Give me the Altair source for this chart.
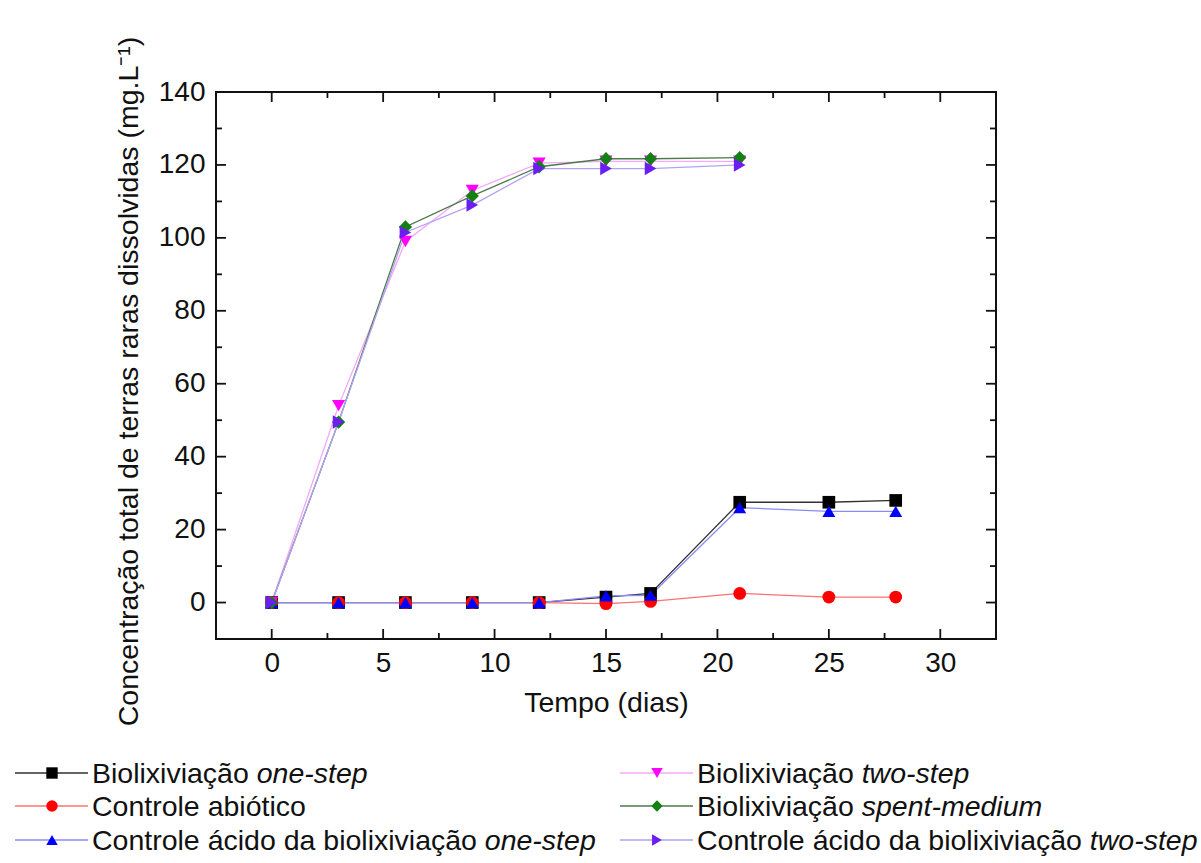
import altair as alt
import pandas as pd

# ---- data -------------------------------------------------------------
days_long = [0, 3, 6, 9, 12, 15, 17, 21, 25, 28]
days_short = [0, 3, 6, 9, 12, 15, 17, 21]

one_step = [0, 0, 0, 0, 0, 1.5, 2.5, 27.5, 27.5, 28.0]
abiotic = [0, 0, 0, 0, 0, -0.3, 0.3, 2.5, 1.5, 1.5]
acid_one_step = [0, 0, 0, 0, 0, 1.8, 2.0, 26.0, 25.0, 25.0]
two_step = [0, 54.0, 99.0, 113.0, 120.5, 121.0, 121.0, 121.0]
spent_medium = [0, 49.5, 103.0, 111.5, 119.5, 121.7, 121.7, 122.0]
acid_two_step = [0, 49.5, 101.5, 109.0, 119.0, 119.0, 119.0, 120.0]

series_keys = ["one", "abio", "acid1", "two", "spent", "acid2"]
label_plain = [
    "Biolixiviação ",
    "Controle abiótico",
    "Controle ácido da biolixiviação ",
    "Biolixiviação ",
    "Biolixiviação ",
    "Controle ácido da biolixiviação ",
]
label_italic = ["one-step", "", "one-step", "two-step", "spent-medium", "two-step"]

x_major = [0, 5, 10, 15, 20, 25, 30]
x_minor = [2.5, 7.5, 12.5, 17.5, 22.5, 27.5]
y_major = [0, 20, 40, 60, 80, 100, 120, 140]
y_minor = [-10, 10, 30, 50, 70, 90, 110, 130]

# ---- styles -----------------------------------------------------------
marker_colors = ["#000000", "#ff0000", "#0000ff", "#ff00ff", "#128012", "#6a1ff0"]
line_colors = ["#303030", "#ff7070", "#8c8cf5", "#f5a8f5", "#4d7a4d", "#b3a2f5"]
shapes = ["square", "circle", "triangle-up", "triangle-down", "diamond", "triangle-right"]
sizes = [160, 180, 210, 210, 270, 210]

FONT = "Liberation Sans"
FS_TICK = 28
FS = 28.5
W, H = 780, 547
X_DOM = [-2.5, 32.5]
Y_DOM = [-10, 140]

# ---- long table ---------------------------------------------------------
rows = []
for key, days, vals in [
    ("one", days_long, one_step),
    ("abio", days_long, abiotic),
    ("acid1", days_long, acid_one_step),
    ("two", days_short, two_step),
    ("spent", days_short, spent_medium),
    ("acid2", days_short, acid_two_step),
]:
    for d, v in zip(days, vals):
        rows.append({"series": key, "dia": d, "conc": v})
df = pd.DataFrame(rows)

xs = alt.Scale(domain=X_DOM, nice=False, zero=False)
ys = alt.Scale(domain=Y_DOM, nice=False, zero=False)
line_scale = alt.Scale(domain=series_keys, range=line_colors)
fill_scale = alt.Scale(domain=series_keys, range=marker_colors)
shape_scale = alt.Scale(domain=series_keys, range=shapes)
size_scale = alt.Scale(domain=series_keys, range=sizes)

x_axis = alt.Axis(
    values=x_major, title="Tempo (dias)", grid=False, ticks=False, tickSize=0,
    domain=False, labelFont=FONT, labelFontSize=FS_TICK, labelColor="#111",
    labelPadding=10, labelFlush=False,
    titleFont=FONT, titleFontSize=FS, titleFontWeight="normal", titleColor="#111",
    titlePadding=11,
)
y_axis = alt.Axis(
    values=y_major, title="Concentração total de terras raras dissolvidas (mg.L⁻¹)",
    grid=False, ticks=False, tickSize=0, domain=False, labelFont=FONT,
    labelFontSize=FS_TICK, labelColor="#111", labelPadding=11, labelFlush=False,
    titleFont=FONT, titleFontSize=FS, titleFontWeight="normal", titleColor="#111",
    titleAngle=270, titleAlign="center", titleBaseline="middle",
    titleX=-88, titleY=289,
)

base = alt.Chart(df)

lines = base.mark_line(strokeWidth=1.3).encode(
    x=alt.X("dia:Q", scale=xs, axis=x_axis),
    y=alt.Y("conc:Q", scale=ys, axis=y_axis),
    color=alt.Color("series:N", scale=line_scale, legend=None),
    detail="series:N",
)

points = base.mark_point(filled=True, opacity=1, strokeWidth=0).encode(
    x=alt.X("dia:Q", scale=xs),
    y=alt.Y("conc:Q", scale=ys),
    fill=alt.Fill("series:N", scale=fill_scale, legend=None),
    shape=alt.Shape("series:N", scale=shape_scale, legend=None),
    size=alt.Size("series:N", scale=size_scale, legend=None),
    order=alt.Order("ord:Q"),
).transform_calculate(
    ord="indexof(" + str(series_keys) + ", datum.series)"
)

# ---- inward ticks on all four sides ---------------------------------
xt = pd.DataFrame({"v": x_major + x_minor, "len": [10] * len(x_major) + [6] * len(x_minor)})
yt = pd.DataFrame({"v": y_major + y_minor, "len": [10] * len(y_major) + [6] * len(y_minor)})

tick_style = dict(color="#111", strokeWidth=1.8)
x_bottom = alt.Chart(xt).transform_calculate(yb=f"{H} - datum.len").mark_rule(**tick_style).encode(
    x=alt.X("v:Q", scale=xs),
    y=alt.Y("yb:Q", scale=None),
    y2=alt.value(H),
)
x_top = alt.Chart(xt).mark_rule(**tick_style).encode(
    x=alt.X("v:Q", scale=xs),
    y=alt.Y("len:Q", scale=None),
    y2=alt.value(0),
)
y_left = alt.Chart(yt).mark_rule(**tick_style).encode(
    y=alt.Y("v:Q", scale=ys),
    x=alt.X("len:Q", scale=None),
    x2=alt.value(0),
)
y_right = alt.Chart(yt).transform_calculate(xr=f"{W} - datum.len").mark_rule(**tick_style).encode(
    y=alt.Y("v:Q", scale=ys),
    x=alt.X("xr:Q", scale=None),
    x2=alt.value(W),
)

# ---- legend below the plot (plain + italic parts) ---------------------
ARIAL = {
    " ": 278, "B": 667, "C": 722, "a": 556, "b": 556, "c": 500, "d": 556,
    "e": 556, "i": 222, "l": 222, "o": 556, "r": 333, "t": 278, "v": 500,
    "x": 500, "ç": 500, "ã": 556, "á": 556, "ó": 556, "n": 556, "s": 500,
}


def text_width(s, fs):
    return sum(ARIAL.get(ch, 556) for ch in s) * fs / 1000.0


ORIGIN_X, ORIGIN_Y = 216, 92
col_left = [15, 620]          # start of legend line, per column (page px)
row_base = [783, 816, 850]    # text baselines (page px)
leg = []
for i, key in enumerate(series_keys):
    col = 0 if i < 3 else 1
    row = i % 3
    lx = col_left[col] - ORIGIN_X
    tx = lx + 77
    base_y = row_base[row] - ORIGIN_Y
    leg.append({
        "series": key,
        "lx1": lx, "lx2": lx + 73, "mx": lx + 37,
        "my": base_y - 10,
        "tx": tx, "ty": base_y,
        "ix": tx + text_width(label_plain[i], FS),
        "plain": label_plain[i], "ital": label_italic[i],
    })
leg_df = pd.DataFrame(leg)

leg_lines = alt.Chart(leg_df).mark_rule(strokeWidth=1.3).encode(
    x=alt.X("lx1:Q", scale=None), x2="lx2:Q",
    y=alt.Y("my:Q", scale=None),
    color=alt.Color("series:N", scale=line_scale, legend=None),
)
leg_points = alt.Chart(leg_df).mark_point(filled=True, opacity=1, strokeWidth=0).encode(
    x=alt.X("mx:Q", scale=None),
    y=alt.Y("my:Q", scale=None),
    fill=alt.Fill("series:N", scale=fill_scale, legend=None),
    shape=alt.Shape("series:N", scale=shape_scale, legend=None),
    size=alt.value(130),
)
leg_plain = alt.Chart(leg_df).mark_text(
    align="left", baseline="alphabetic", font=FONT, fontSize=FS, color="#111"
).encode(x=alt.X("tx:Q", scale=None), y=alt.Y("ty:Q", scale=None), text="plain:N")
leg_ital = alt.Chart(leg_df).mark_text(
    align="left", baseline="alphabetic", font=FONT, fontSize=FS, color="#111",
    fontStyle="italic",
).encode(x=alt.X("ix:Q", scale=None), y=alt.Y("ty:Q", scale=None), text="ital:N")

chart = alt.layer(
    lines, points, x_bottom, x_top, y_left, y_right,
    leg_lines, leg_points, leg_plain, leg_ital,
).properties(
    width=W, height=H,
    autosize=alt.AutoSizeParams(type="none"),
    padding={"left": ORIGIN_X, "top": ORIGIN_Y, "right": 1201 - ORIGIN_X - W, "bottom": 863 - ORIGIN_Y - H},
    background="white",
).configure_view(stroke="#111", strokeWidth=2)

chart.save("out.html", embed_options={"renderer": "svg", "actions": False})
